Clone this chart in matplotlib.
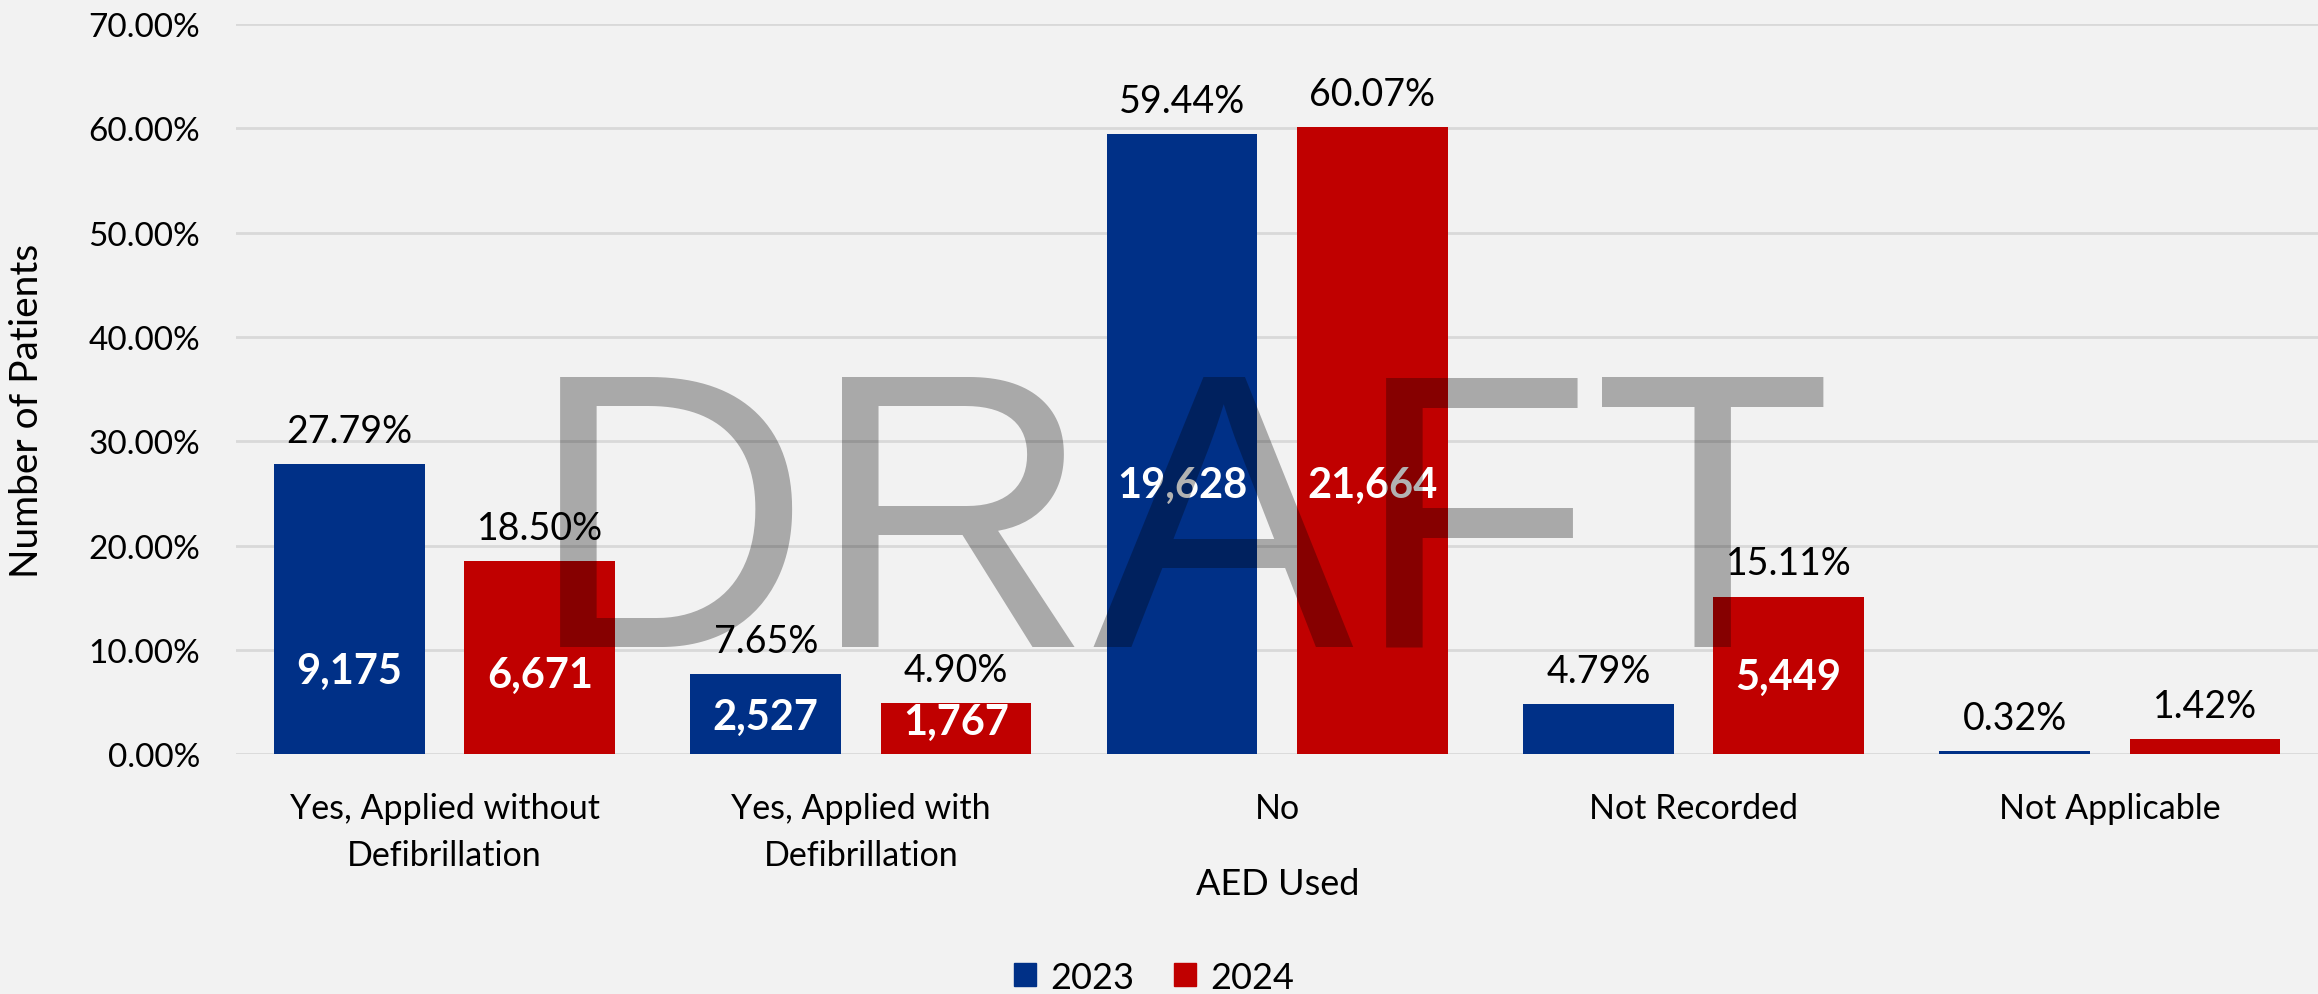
import numpy as np
import matplotlib.pyplot as plt
from matplotlib.patches import Patch

# data
categories = ['Yes, Applied without\nDefibrillation', 'Yes, Applied with\nDefibrillation',
              'No', 'Not Recorded', 'Not Applicable']
pct_2023 = [27.79, 7.65, 59.44, 4.79, 0.32]
pct_2024 = [18.50, 4.90, 60.07, 15.11, 1.42]
counts_2023 = ['9,175', '2,527', '19,628', '', '']
counts_2024 = ['6,671', '1,767', '21,664', '5,449', '']
# height (in %) where the white count labels sit inside the bars
count_pos_2023 = [8.0, 3.6, 25.8, 0, 0]
count_pos_2024 = [7.6, 3.1, 25.8, 7.4, 0]
yticks = [0, 10, 20, 30, 40, 50, 60, 70]

blue = '#003087'
red = '#C00000'
bg = '#F2F2F2'

plt.rcParams['font.family'] = ['Lato', 'DejaVu Sans']

fig = plt.figure(figsize=(23.18, 9.95), dpi=100, facecolor=bg)
ax = fig.add_axes([0.102, 0.241, 0.898, 0.734], facecolor=bg)

x = np.arange(len(categories))
w = 0.362
off = 0.2286
b1 = ax.bar(x - off, pct_2023, w, color=blue, zorder=2)
b2 = ax.bar(x + off, pct_2024, w, color=red, zorder=2)

# percent labels above bars
for bars, vals in [(b1, pct_2023), (b2, pct_2024)]:
    for rect, v in zip(bars, vals):
        ax.annotate(f'{v:.2f}%', (rect.get_x() + rect.get_width() / 2, v),
                    xytext=(0, 11), textcoords='offset points',
                    ha='center', va='bottom', fontsize=27, color='black', zorder=4)

# count labels inside bars
for xs, labs, pos in [(x - off, counts_2023, count_pos_2023), (x + off, counts_2024, count_pos_2024)]:
    for xi, lab, p in zip(xs, labs, pos):
        if lab:
            ax.text(xi, p, lab, ha='center', va='center', fontsize=30,
                    fontweight='bold', color='white', zorder=4)

ax.set_xlim(-0.5, len(categories) - 0.5)
ax.set_ylim(0, 70)
ax.set_yticks(yticks)
ax.set_yticklabels([f'{t:.2f}%' for t in yticks], fontsize=24)
ax.set_xticks(x)
ax.set_xticklabels(categories, fontsize=24.5, linespacing=1.6)
ax.tick_params(axis='both', length=0)
ax.tick_params(axis='y', pad=26)
ax.tick_params(axis='x', pad=27)
ax.grid(axis='y', color='#D9D9D9', linewidth=2, zorder=0)
ax.set_axisbelow(True)
for s in ax.spines.values():
    s.set_visible(False)

ax.set_xlabel('AED Used', fontsize=26, labelpad=-3)
ax.set_ylabel('Number of Patients', fontsize=28)
ax.yaxis.set_label_coords(-0.0918, 0.471)

handles = [Patch(color=blue, label='2023'), Patch(color=red, label='2024')]
fig.legend(handles=handles, loc='center', bbox_to_anchor=(0.498, 0.017),
           ncol=2, frameon=False, fontsize=26, handlelength=0.6, handleheight=0.6,
           handletextpad=0.4, columnspacing=1.1)

# watermark on top of everything
fig.text(0.2278, 0.350, 'DRAFT', fontsize=282, family='Liberation Sans',
         color='black', alpha=0.3, ha='left', va='baseline', zorder=10)

fig.savefig('out.png', dpi=100, facecolor=bg)
